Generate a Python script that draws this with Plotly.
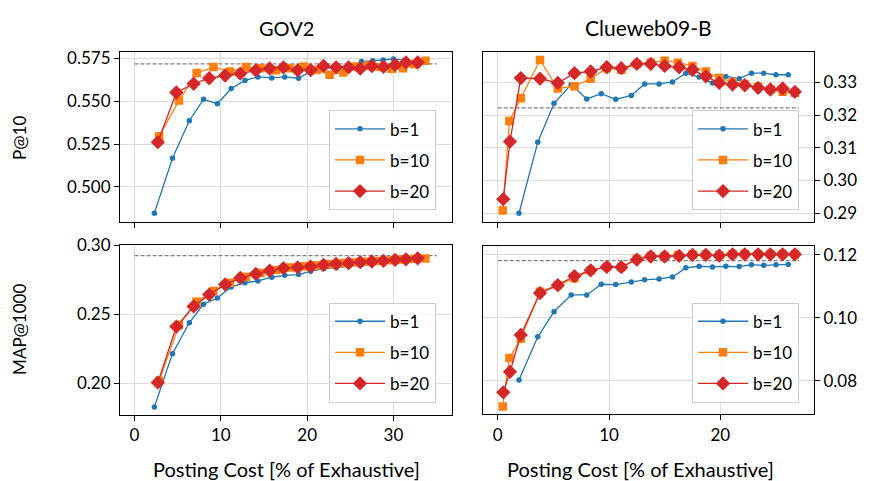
import plotly.graph_objects as go
from plotly.subplots import make_subplots

# ---------------- data ----------------
b_labels = ["b=1", "b=10", "b=20"]

gov2_cost_b1 = [2.3, 4.4, 6.35, 8.0, 9.6, 11.2, 12.8, 14.3, 15.9, 17.4, 19.0, 20.4, 21.9, 23.4, 24.9, 26.3, 27.6, 28.8, 30.0, 31.3]
gov2_p10_b1 = [0.4847, 0.5167, 0.5386, 0.5511, 0.5485, 0.5574, 0.5621, 0.5642, 0.5636, 0.5642, 0.5634, 0.5674, 0.5690, 0.5700, 0.5705, 0.5731, 0.5736, 0.5740, 0.5746, 0.5740]
gov2_map_b1 = [0.1828, 0.2215, 0.2439, 0.2574, 0.2618, 0.2699, 0.2729, 0.2742, 0.2769, 0.2783, 0.2788, 0.2813, 0.2830, 0.2840, 0.2852, 0.2862, 0.2870, 0.2877, 0.2884, 0.2890]

gov2_cost_b10 = [2.85, 5.15, 7.2, 9.15, 11.05, 12.9, 14.6, 16.4, 18.0, 19.6, 21.1, 22.6, 24.2, 25.6, 27.0, 28.4, 29.8, 31.1, 32.4, 33.7]
gov2_p10_b10 = [0.5295, 0.5504, 0.5665, 0.5699, 0.5674, 0.5699, 0.5693, 0.5680, 0.5693, 0.5702, 0.5682, 0.5655, 0.5668, 0.5703, 0.5708, 0.5700, 0.5689, 0.5693, 0.5715, 0.5736]
gov2_map_b10 = [0.2017, 0.2422, 0.2592, 0.2670, 0.2729, 0.2772, 0.2800, 0.2822, 0.2840, 0.2848, 0.2855, 0.2865, 0.2872, 0.2877, 0.2882, 0.2887, 0.2892, 0.2897, 0.2902, 0.2905]

gov2_cost_b20 = [2.7, 4.85, 6.85, 8.65, 10.5, 12.25, 14.05, 15.65, 17.25, 18.9, 20.4, 21.9, 23.35, 24.8, 26.15, 27.5, 28.85, 30.2, 31.45, 32.8]
gov2_p10_b20 = [0.5261, 0.5551, 0.5602, 0.5634, 0.5650, 0.5661, 0.5680, 0.5691, 0.5697, 0.5680, 0.5681, 0.5706, 0.5698, 0.5697, 0.5690, 0.5705, 0.5700, 0.5712, 0.5726, 0.5726]
gov2_map_b20 = [0.2005, 0.2411, 0.2557, 0.2643, 0.2717, 0.2764, 0.2793, 0.2816, 0.2835, 0.2840, 0.2847, 0.2859, 0.2866, 0.2871, 0.2878, 0.2883, 0.2888, 0.2895, 0.2899, 0.2906]

cw_cost_b1 = [1.91, 3.6, 5.06, 6.6, 8.0, 9.3, 10.6, 12.0, 13.2, 14.5, 15.7, 16.9, 18.1, 19.3, 20.5, 21.7, 22.8, 23.9, 25.0, 26.1]
cw_p10_b1 = [0.2900, 0.3117, 0.3236, 0.3293, 0.3249, 0.3265, 0.3248, 0.3260, 0.3295, 0.3295, 0.3301, 0.3328, 0.3316, 0.3298, 0.3318, 0.3311, 0.3328, 0.3328, 0.3323, 0.3323]
cw_map_b1 = [0.0803, 0.0940, 0.1020, 0.1073, 0.1073, 0.1107, 0.1106, 0.1114, 0.1121, 0.1124, 0.1130, 0.1159, 0.1164, 0.1162, 0.1164, 0.1163, 0.1169, 0.1167, 0.1169, 0.1170]

cw_cost_b10 = [0.45, 1.05, 2.07, 3.8, 5.4, 6.9, 8.35, 9.8, 11.1, 12.5, 13.75, 15.0, 16.2, 17.5, 18.7, 19.9, 21.1, 22.2, 23.4, 24.5, 25.6, 26.7]
cw_p10_b10 = [0.2908, 0.3182, 0.3251, 0.3368, 0.3281, 0.3288, 0.3311, 0.3343, 0.3338, 0.3356, 0.3360, 0.3366, 0.3360, 0.3350, 0.3333, 0.3313, 0.3301, 0.3293, 0.3286, 0.3278, 0.3271, 0.3268]
cw_map_b10 = [0.0719, 0.0873, 0.0934, 0.1083, 0.1104, 0.1126, 0.1151, 0.1162, 0.1161, 0.1188, 0.1197, 0.1197, 0.1199, 0.1201, 0.1201, 0.1199, 0.1202, 0.1203, 0.1202, 0.1203, 0.1202, 0.1202]

cw_cost_b20 = [0.5, 1.1, 2.07, 3.8, 5.4, 6.9, 8.35, 9.8, 11.1, 12.5, 13.75, 15.0, 16.3, 17.5, 18.7, 19.9, 21.1, 22.2, 23.4, 24.5, 25.6, 26.7]
cw_p10_b20 = [0.2943, 0.3119, 0.3313, 0.3311, 0.3298, 0.3328, 0.3333, 0.3346, 0.3343, 0.3356, 0.3356, 0.3350, 0.3346, 0.3338, 0.3318, 0.3298, 0.3293, 0.3291, 0.3283, 0.3278, 0.3281, 0.3271]
cw_map_b20 = [0.0764, 0.0829, 0.0946, 0.1079, 0.1104, 0.1133, 0.1151, 0.1162, 0.1161, 0.1185, 0.1195, 0.1195, 0.1197, 0.1200, 0.1200, 0.1198, 0.1202, 0.1202, 0.1202, 0.1202, 0.1202, 0.1202]

# exhaustive baselines (dashed lines) and their x extent
gov2_p10_exh = 0.5718
gov2_map_exh = 0.2926
cw_p10_exh = 0.3222
cw_map_exh = 0.1182
gov2_exh_span = [0, 35.0]
cw_exh_span = [0, 27.06]

# ---------------- styling ----------------
FONT = "Lato"
colors = ["#1f77b4", "#ff7f0e", "#d62728"]
symbols = ["circle", "square", "diamond"]
msizes = [5.5, 8.5, 11]

fig = make_subplots(rows=2, cols=2)

# page has an 8px body margin: figure is shrunk and every position is
# given in page pixels, then shifted by that offset.
OFF = 8
W, H = 871 - OFF, 481 - OFF
def px_x(p):
    return (p - OFF) / W
def px_y(p):
    return 1 - (p - OFF) / H
def xd(a, b):
    return [px_x(a), px_x(b)]
def yd(top, bot):
    return [px_y(bot), px_y(top)]

panels = [
    (1, 1, [gov2_cost_b1, gov2_cost_b10, gov2_cost_b20], [gov2_p10_b1, gov2_p10_b10, gov2_p10_b20], gov2_p10_exh, gov2_exh_span, "legend"),
    (1, 2, [cw_cost_b1, cw_cost_b10, cw_cost_b20], [cw_p10_b1, cw_p10_b10, cw_p10_b20], cw_p10_exh, cw_exh_span, "legend2"),
    (2, 1, [gov2_cost_b1, gov2_cost_b10, gov2_cost_b20], [gov2_map_b1, gov2_map_b10, gov2_map_b20], gov2_map_exh, gov2_exh_span, "legend3"),
    (2, 2, [cw_cost_b1, cw_cost_b10, cw_cost_b20], [cw_map_b1, cw_map_b10, cw_map_b20], cw_map_exh, cw_exh_span, "legend4"),
]

for (r, c, costs, vals, exh, span, lg) in panels:
    fig.add_trace(go.Scatter(x=span, y=[exh, exh], mode="lines",
                             line=dict(color="#808080", width=1.2, dash="4px,2px"),
                             showlegend=False, hoverinfo="skip"), row=r, col=c)
    for i in range(3):
        fig.add_trace(go.Scatter(
            x=costs[i], y=vals[i], mode="lines+markers", name=b_labels[i],
            line=dict(color=colors[i], width=1.3),
            marker=dict(symbol=symbols[i], size=msizes[i], color=colors[i], line=dict(width=0)),
            legend=lg, legendgroup=f"{lg}_{i}",
        ), row=r, col=c)

axis_common = dict(showline=True, mirror=True, linecolor="black", linewidth=1.2,
                   ticks="outside", ticklen=5, tickwidth=1.2, tickcolor="black",
                   showgrid=True, gridcolor="#dcdcdc", gridwidth=1, zeroline=False,
                   tickfont=dict(family=FONT, size=17, color="black"))

fig.update_layout(
    xaxis=dict(domain=xd(120, 452), range=[-1.68, 36.78], dtick=10, tick0=0, showticklabels=False, **axis_common),
    xaxis2=dict(domain=xd(482.7, 814), range=[-1.35, 28.42], dtick=10, tick0=0, showticklabels=False, **axis_common),
    xaxis3=dict(domain=xd(120, 452), range=[-1.68, 36.78], dtick=10, tick0=0, **axis_common),
    xaxis4=dict(domain=xd(482.7, 814), range=[-1.35, 28.42], dtick=10, tick0=0, **axis_common),
    yaxis=dict(domain=yd(41.7, 216), range=[0.4797, 0.5788], tickvals=[0.5, 0.525, 0.55, 0.575], tickformat=".3f", **axis_common),
    yaxis2=dict(domain=yd(41.7, 216), range=[0.2874, 0.3393], tickvals=[0.29, 0.30, 0.31, 0.32, 0.33], tickformat=".2f", side="right", **axis_common),
    yaxis3=dict(domain=yd(240, 414.3), range=[0.177, 0.3002], tickvals=[0.20, 0.25, 0.30], tickformat=".2f", **axis_common),
    yaxis4=dict(domain=yd(240.7, 413.3), range=[0.0695, 0.1229], tickvals=[0.08, 0.10, 0.12], tickformat=".2f", side="right", **axis_common),
)

legend_common = dict(xanchor="right", yanchor="bottom", bgcolor="rgba(255,255,255,0.85)",
                     bordercolor="#cccccc", borderwidth=1,
                     font=dict(family=FONT, size=17, color="black"),
                     tracegroupgap=6, itemwidth=50)
fig.update_layout(
    legend=dict(x=px_x(436), y=px_y(204.3), **legend_common),
    legend2=dict(x=px_x(799), y=px_y(204.3), **legend_common),
    legend3=dict(x=px_x(436), y=px_y(401.7), **legend_common),
    legend4=dict(x=px_x(799), y=px_y(401.7), **legend_common),
)

ann = []
def add_text(text, x, y, size, angle=0):
    ann.append(dict(text=text, x=px_x(x), y=px_y(y), xref="paper", yref="paper",
                    showarrow=False, textangle=angle, xanchor="center", yanchor="middle",
                    font=dict(family=FONT, size=size, color="black")))
add_text("GOV2", 286, 17, 20)
add_text("Clueweb09-B", 648, 17, 21)
add_text("P@10", 20, 130, 17, -90)
add_text("MAP@1000", 20, 327, 17, -90)
add_text("Posting Cost [% of Exhaustive]", 286, 470, 20)
add_text("Posting Cost [% of Exhaustive]", 640, 470, 20)

fig.update_layout(
    width=W, height=H, margin=dict(l=0, r=0, t=0, b=0),
    paper_bgcolor="white", plot_bgcolor="white",
    annotations=ann, font=dict(family=FONT),
)

fig.write_html("out.html")
